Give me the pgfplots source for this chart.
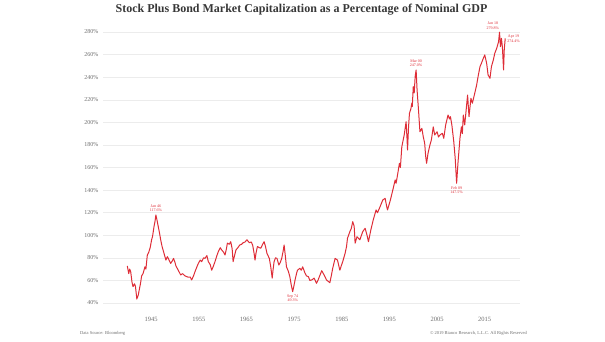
\documentclass[border=0pt]{standalone}
\usepackage{pgfplots}
\pgfplotsset{compat=1.18}
\usepackage{fontspec}
\setmainfont{Liberation Serif}
\definecolor{linered}{RGB}{222,45,55}
\definecolor{gridgray}{RGB}{236,236,236}
\definecolor{labgray}{RGB}{110,110,110}
\definecolor{titlegray}{RGB}{55,55,55}
\begin{document}
\begin{tikzpicture}[x=1pt,y=1pt]
\useasboundingbox (0,0) rectangle (605,341);
\begin{axis}[
  at={(103pt,33.5pt)}, anchor=south west,
  scale only axis, width=417pt, height=280pt,
  xmin=1934.9, xmax=2022.4, ymin=36, ymax=284,
  axis line style={draw=none},
  major tick length=0pt,
  ymajorgrids, grid style={gridgray, line width=0.5pt},
  xtick={1945,1955,1965,1975,1985,1995,2005,2015},
  ytick={40,60,...,280},
  /pgf/number format/assume math mode=true,
  xticklabel style={font=\fontsize{6.5}{7.5}\selectfont, text=labgray, yshift=-6pt},
  yticklabel style={font=\fontsize{6}{7}\selectfont, text=labgray, xshift=-1pt},
  xticklabel={\pgfmathprintnumber[1000 sep={}]{\tick}},
  yticklabel={\pgfmathprintnumber{\tick}\%},
  clip=false,
]
\addplot[linered, line width=1pt, line join=round] coordinates {
(1940.0,72.8)(1940.3,66)(1940.5,70)(1940.7,68)(1941.0,58)(1941.2,54.5)(1941.5,57)(1941.7,55)
(1942.0,43.5)(1942.3,47)(1942.5,51.5)(1942.8,58)(1943.0,64)(1943.3,66)(1943.7,72)(1943.9,70)
(1944.2,82.5)(1944.5,85)(1944.8,89)(1945.1,96)(1945.3,99)(1945.6,107.6)(1945.8,112)(1946.0,118)
(1946.2,114)(1946.5,107.6)(1946.8,101)(1947.0,96)(1947.3,90)(1947.6,85.5)(1947.9,81)(1948.1,78)
(1948.4,81)(1948.6,79.5)(1949.1,75)(1949.4,77)(1949.7,79.5)(1950.0,76)(1950.2,72.8)(1950.7,69)
(1951.2,64.8)(1951.6,66)(1952.1,64)(1952.8,62.8)(1953.2,63)(1953.5,60.4)(1953.9,64)(1954.2,67.7)
(1954.6,72)(1954.9,75)(1955.3,78)(1955.6,76.6)(1956.0,80)(1956.3,79.5)(1956.7,82)(1957.0,76.6)
(1957.4,74)(1957.7,69)(1958.0,72)(1958.4,76.6)(1958.8,82)(1959.1,85.5)(1959.5,89)(1959.8,87)
(1960.2,85)(1960.5,82.5)(1960.8,88)(1961.0,93)(1961.4,92)(1961.7,94.3)(1962.0,88)(1962.2,76.6)
(1962.5,82)(1962.8,87)(1963.2,89)(1963.6,91.4)(1964.0,92)(1964.3,93.4)(1964.7,94)(1965.1,96)
(1965.6,93.4)(1966.0,94)(1966.3,91.4)(1966.6,84)(1966.8,78)(1967.0,84)(1967.3,90)(1967.7,89)
(1968.0,88.5)(1968.4,92)(1968.7,94.3)(1969.0,90)(1969.3,84)(1969.8,79.5)(1970.1,72)(1970.4,62)
(1970.6,70)(1970.8,76.6)(1971.1,80)(1971.4,79.5)(1971.8,73.6)(1972.1,76)(1972.4,79.5)(1972.7,86)
(1972.9,91.4)(1973.1,84)(1973.4,72)(1973.8,68)(1974.1,63.3)(1974.4,56)(1974.7,50)(1975.0,56)
(1975.2,60.4)(1975.5,66)(1975.7,69)(1976.2,70.7)(1976.5,69)(1976.8,72)(1977.3,66.3)(1977.6,64)
(1978.0,63.3)(1978.3,60)(1978.7,60.4)(1979.2,62)(1979.7,57.4)(1980.0,60)(1980.3,63.3)(1980.8,68.6)
(1981.3,64.8)(1981.8,60.4)(1982.2,59)(1982.5,58)(1982.8,64)(1983.1,70.7)(1983.6,79.5)(1984.1,78)
(1984.6,69)(1984.9,73)(1985.2,76.6)(1985.7,84)(1986.0,90)(1986.2,97.3)(1986.7,103.2)(1987.0,106)
(1987.3,112)(1987.6,108)(1987.8,93)(1988.2,98.7)(1988.8,96)(1989.4,103.2)(1989.9,106.2)(1990.3,100)
(1990.6,94.3)(1991.1,104.7)(1991.6,113.5)(1992.2,122.4)(1992.5,120)(1992.9,123.9)(1993.3,128)(1993.6,131.2)
(1994.1,132.7)(1994.4,126)(1994.6,122.4)(1995.2,131.2)(1995.8,141.6)(1996.2,149)(1996.4,146)(1996.7,153.4)
(1997.1,163.7)(1997.3,160)(1997.6,178.4)(1998.1,188.8)(1998.5,200.6)(1998.7,185)(1998.8,175.5)(1999.0,195)
(1999.2,208)(1999.5,212)(1999.7,217)(1999.8,214)(2000.0,231.6)(2000.2,226)(2000.4,240.5)(2000.6,246.4)
(2000.8,228.7)(2001.1,211)(2001.4,191.7)(2001.8,194.7)(2002.1,187.3)(2002.4,181.4)(2002.6,170)(2002.8,163.7)
(2003.1,172.6)(2003.5,180)(2003.8,184.4)(2004.2,196)(2004.5,188.8)(2005.0,191.7)(2005.3,187)(2005.6,188.8)
(2006.1,190.3)(2006.4,185.9)(2006.8,197.7)(2007.3,206.5)(2007.6,203)(2007.8,205)(2008.1,197.7)(2008.5,182.9)
(2008.8,168.2)(2009.1,146)(2009.4,165)(2009.8,185.9)(2010.1,196)(2010.3,190)(2010.5,206.5)(2010.8,197.7)
(2011.2,215.4)(2011.4,224.2)(2011.7,205)(2012.1,221.3)(2012.4,216.9)(2012.9,225.7)(2013.3,233.1)(2013.6,240.5)
(2014.0,249.3)(2014.3,252.3)(2014.7,256.7)(2015.0,259.7)(2015.4,252.3)(2015.7,242)(2016.1,239)(2016.4,249.3)
(2016.8,255.2)(2017.1,261.1)(2017.5,265.5)(2017.9,271.4)(2018.1,279.8)(2018.3,267)(2018.5,274.4)(2018.7,267)
(2018.95,246.4)(2019.1,265)(2019.3,274.4)
};
\begin{scope}[every node/.style={font=\fontsize{4}{4.6}\selectfont, text=linered, align=center, inner sep=0.5pt}]
\node[anchor=south] at (axis cs:1946.0,120) {Jan 46\\117.6\%};
\node[anchor=north] at (axis cs:1974.7,48) {Sep 74\\49.3\%};
\node[anchor=south] at (axis cs:2000.6,248.5) {Mar 00\\247.0\%};
\node[anchor=north] at (axis cs:2009.1,144) {Feb 09\\147.5\%};
\node[anchor=south] at (axis cs:2016.7,282) {Jan 18\\279.8\%};
\node[anchor=south west] at (axis cs:2019.6,270) {Apr 19\\274.4\%};
\end{scope}
\end{axis}
\node[font=\bfseries\fontsize{12}{14}\selectfont, text=titlegray] at (301.5,331) {Stock Plus Bond Market Capitalization as a Percentage of Nominal GDP};
\node[font=\fontsize{4.5}{5}\selectfont, text=labgray, anchor=west, inner sep=0pt] at (80,8) {Data Source: Bloomberg};
\node[font=\fontsize{4.5}{5}\selectfont, text=labgray, anchor=east, inner sep=0pt] at (527,8) {\textcopyright{} 2019 Bianco Research, L.L.C. All Rights Reserved};
\end{tikzpicture}
\end{document}
